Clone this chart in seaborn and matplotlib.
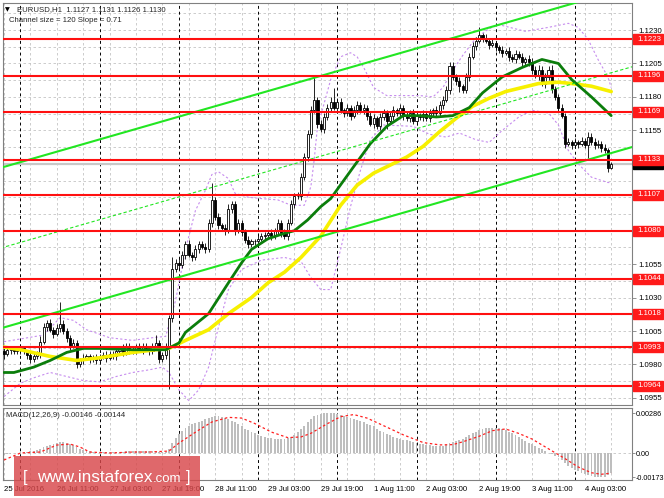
import numpy as np
import pandas as pd
import matplotlib
matplotlib.use("Agg")
import matplotlib.pyplot as plt
import matplotlib.transforms as mtrans
from matplotlib.patches import Rectangle
import seaborn as sns

sns.set_style("white")
plt.rcParams['font.family'] = ['Liberation Sans', 'DejaVu Sans']

# ---------------- data ----------------
BASE = 1.1000          # prices below are pips above this base
PIP = 0.0001

times = pd.date_range('2016-07-25 19:00', '2016-08-04 11:00', freq='h')
times = times[times.dayofweek < 5]

first_open_pips = -10
close_pips = [
    -12, -9, -8, -10, -9, -8, -10, -13, -16, -14,
    -12, -3, 8, 11, 6, 3, 7, 10, 5, 0,
    -6, -4, -20, -17, -15, -14, -16, -15, -17, -14,
    -13, -15, -12, -14, -10, -8, -11, -6, -9, -10,
    -7, -9, -6, -8, -10, -7, -4, -16, -13, -7,
    15, 51, 56, 54, 62, 70, 62, 60, 66, 70,
    68, 66, 86, 103, 90, 84, 82, 80, 96, 100,
    80, 86, 79, 73, 70, 72, 72, 74, 76, 77,
    78, 76, 80, 86, 78, 76, 86, 100, 106, 106,
    120, 135, 152, 170, 178, 160, 156, 165, 172, 176,
    172, 176, 170, 168, 172, 166, 170, 174, 170, 172,
    166, 160, 164, 158, 165, 168, 162, 166, 170, 168,
    172, 166, 164, 168, 162, 166, 165, 167, 164, 168,
    170, 168, 174, 178, 185, 203, 195, 192, 188, 185,
    195, 210, 218, 222, 226, 224, 222, 219, 220, 217,
    215, 213, 214, 210, 208, 212, 210, 206, 208, 206,
    200, 196, 200, 190, 195, 200, 186, 180, 172, 166,
    145, 146, 144, 146, 145, 147, 144, 150, 146, 144,
    145, 142, 140, 127, 130]
upper_wick_pips = [
    2, 3, 2, 2, 3, 2, 2, 1, 2, 3,
    2, 4, 3, 2, 3, 2, 3, 17, 3, 2,
    2, 3, 2, 2, 3, 2, 2, 2, 3, 2,
    2, 3, 2, 2, 3, 2, 3, 2, 2, 3,
    2, 3, 2, 2, 2, 3, 6, 2, 2, 3,
    2, 9, 3, 4, 3, 2, 3, 2, 3, 2,
    2, 3, 3, 13, 2, 3, 2, 3, 4, 2,
    2, 3, 2, 2, 3, 2, 2, 3, 2, 2,
    2, 3, 2, 3, 2, 3, 3, 3, 2, 3,
    3, 3, 3, 3, 18, 2, 3, 3, 3, 4,
    11, 3, 3, 2, 3, 2, 3, 3, 2, 3,
    2, 3, 3, 2, 3, 3, 2, 3, 3, 2,
    3, 2, 3, 2, 3, 2, 2, 3, 2, 3,
    2, 3, 3, 3, 3, 3, 3, 2, 3, 2,
    3, 3, 3, 3, 6, 2, 3, 2, 3, 2,
    2, 3, 2, 3, 2, 3, 2, 3, 2, 3,
    3, 3, 4, 3, 3, 3, 4, 2, 2, 3,
    2, 3, 2, 3, 2, 3, 2, 4, 3, 3,
    3, 2, 3, 2, 1]
lower_wick_pips = [
    4, 2, 3, 2, 2, 3, 2, 3, 3, 2,
    2, 3, 2, 3, 2, 3, 2, 3, 2, 3,
    3, 2, 3, 2, 3, 2, 3, 2, 3, 2,
    2, 3, 2, 2, 3, 2, 3, 2, 3, 2,
    2, 2, 3, 2, 3, 2, 2, 3, 2, 3,
    31, 3, 2, 3, 2, 3, 2, 3, 2, 3,
    2, 3, 2, 3, 2, 3, 2, 3, 2, 3,
    3, 2, 3, 2, 3, 2, 3, 2, 2, 3,
    2, 3, 2, 3, 3, 2, 3, 2, 3, 2,
    3, 2, 3, 3, 2, 3, 2, 3, 2, 3,
    2, 3, 2, 3, 2, 3, 2, 3, 2, 3,
    3, 2, 3, 2, 3, 2, 6, 2, 3, 2,
    2, 3, 2, 3, 2, 3, 2, 3, 2, 3,
    2, 3, 2, 3, 2, 3, 2, 3, 4, 2,
    2, 3, 2, 3, 2, 3, 2, 3, 2, 3,
    2, 3, 2, 3, 2, 3, 2, 3, 2, 3,
    3, 2, 3, 2, 3, 2, 3, 2, 3, 2,
    3, 2, 3, 2, 3, 2, 2, 10, 2, 3,
    2, 3, 2, 3, 1]

# moving averages (read at sampled bars)
green_bars = [0, 3, 9, 14, 19, 24, 29, 39, 49, 53, 55, 62, 68, 72, 75, 80, 85, 88, 92, 96,
              99, 106, 111, 116, 121, 126, 131, 136, 141, 145, 151, 157, 163, 168, 172, 178, 184]
green_pips = [-26, -26, -22, -17, -11, -8, -8, -9, -9, -4, 4, 18, 41, 56, 66, 74, 78, 80, 88, 98,
              104, 128, 145, 158, 166, 166, 165, 166, 172, 183, 195, 202, 208, 205, 193, 180, 166]
yellow_bars = [0, 5, 14, 22, 29, 39, 46, 50, 55, 62, 68, 75, 80, 85, 90, 96, 102, 107, 112,
               117, 122, 127, 132, 137, 142, 147, 152, 157, 162, 168, 172, 178, 184]
yellow_pips = [-7, -9, -14, -17, -15, -11, -9, -8, -2, 6, 18, 30, 41, 49, 60, 76, 99, 114, 123,
               129, 135, 143, 154, 164, 173, 179, 184, 187, 190, 191, 190, 188, 184]

# bands
band_up_bars = [0, 12, 17, 21, 25, 32, 39, 45, 49, 52, 55, 58, 61, 63, 65, 68, 70, 74, 78, 83,
                87, 91, 93, 94, 95, 97, 99, 102, 105, 107, 109, 112, 116, 121, 126, 130, 133,
                136, 139, 143, 147, 150, 158, 165, 171, 174, 177, 180, 183, 184]
band_up_pips = [-3, 2, 15, 13, 6, 0, -2, 0, 1, 28, 66, 95, 110, 122, 124, 119, 108, 105, 104, 103,
                99, 99, 113, 133, 158, 175, 193, 210, 213, 210, 202, 187, 181, 181, 181, 180, 187,
                200, 211, 224, 231, 234, 229, 232, 235, 232, 223, 208, 195, 187]
band_lo_bars = [0, 5, 9, 14, 19, 24, 29, 34, 39, 44, 48, 50, 53, 56, 59, 62, 65, 68, 72, 78,
                85, 90, 93, 96, 99, 102, 105, 108, 111, 115, 124, 129, 134, 138, 143, 147, 151,
                156, 160, 165, 168, 171, 174, 178, 183, 184]
band_lo_pips = [-44, -34, -30, -26, -29, -32, -33, -29, -26, -24, -22, -26, -39, -47, -39, -22, 8,
                36, 51, 58, 60, 57, 45, 36, 36, 66, 98, 125, 148, 159, 158, 152, 150, 153, 148,
                146, 155, 165, 170, 168, 159, 140, 130, 120, 116, 116]

# regression channel (Channel size = 120, Slope = 0.71)
channel_bars = [-1, 191]
channel_low = [1.1007, 1.1143]
channel_mid = [1.1067, 1.1203]
channel_up = [1.1127, 1.1263]

levels = [1.1223, 1.1196, 1.1169, 1.1133, 1.1107, 1.1080, 1.1044, 1.1018, 1.0993, 1.0964]
bid_price = 1.1130

# MACD (units of 1e-5)
macd_main = [
    -15, -10, -6, -2, 3, 6, 8, 10, 14, 18,
    22, 30, 40, 50, 58, 66, 72, 76, 76, 72,
    64, 55, 42, 30, 22, 16, 12, 10, 8, 7,
    6, 6, 7, 8, 8, 9, 10, 12, 13, 14,
    14, 15, 15, 14, 15, 16, 14, 10, 9, 10,
    30, 70, 105, 135, 160, 180, 195, 205, 215, 225,
    232, 240, 250, 258, 262, 262, 258, 252, 245, 232,
    220, 205, 190, 175, 165, 150, 140, 130, 122, 115,
    110, 105, 102, 100, 100, 102, 108, 118, 130, 150,
    170, 195, 220, 245, 262, 272, 280, 284, 286, 286,
    284, 280, 275, 268, 260, 252, 244, 236, 228, 220,
    210, 200, 190, 175, 160, 148, 138, 128, 118, 110,
    102, 96, 90, 84, 78, 72, 66, 62, 58, 55,
    52, 50, 50, 52, 56, 70, 80, 86, 92, 100,
    112, 126, 140, 152, 162, 170, 176, 180, 182, 180,
    176, 170, 162, 152, 140, 126, 112, 98, 84, 72,
    62, 50, 38, 26, 14, 2, -8, -20, -32, -48,
    -70, -90, -106, -120, -132, -142, -150, -158, -164, -168,
    -172, -173, -168, -160, -146]
signal_bars = [0, 5, 11, 16, 20, 23, 26, 32, 39, 44, 50, 53, 59, 63, 68, 72, 76, 81, 86, 90,
               93, 98, 102, 106, 110, 116, 121, 127, 132, 136, 139, 144, 148, 152, 156, 160,
               165, 170, 174, 178, 181, 184]
signal_vals = [-50, 0, 7, 57, 64, 43, 7, 0, 7, 7, 14, 71, 164, 222, 255, 250, 211, 150, 110, 115,
               141, 210, 260, 275, 250, 185, 130, 75, 58, 60, 80, 120, 160, 172, 140, 100,
               30, -40, -100, -141, -152, -144]

tick_bars = [0, 16, 32, 48, 64, 80, 96, 112, 128, 144, 160, 176]
tick_labels = ["25 Jul 2016", "26 Jul 11:00", "27 Jul 03:00", "27 Jul 19:00", "28 Jul 11:00",
               "29 Jul 03:00", "29 Jul 19:00", "1 Aug 11:00", "2 Aug 03:00", "2 Aug 19:00",
               "3 Aug 11:00", "4 Aug 03:00"]
price_ticks = [1.0955, 1.0980, 1.1005, 1.1030, 1.1055, 1.1080, 1.1105, 1.1130, 1.1155, 1.1180,
               1.1205, 1.1230]
hidden_price_ticks = [1.1080, 1.1105, 1.1130]   # covered by the level boxes
macd_ticks = [0.00286, 0.0, -0.00173]
macd_tick_labels = ["0.00286", "0.00", "-0.00173"]

# ---------------- derived ----------------
n = len(close_pips)
idx = np.arange(n)
c = BASE + np.array(close_pips) * PIP
o = np.concatenate([[BASE + first_open_pips * PIP], c[:-1]])
h = np.maximum(o, c) + np.array(upper_wick_pips) * PIP
l = np.minimum(o, c) - np.array(lower_wick_pips) * PIP
day_sep = np.where(times.hour == 0)[0]

# ---------------- figure ----------------
W, H = 664, 498
fig = plt.figure(figsize=(W / 100, H / 100), dpi=100)
fig.patch.set_facecolor('white')


def fr(x0, y0, x1, y1):
    return [x0 / W, 1 - y1 / H, (x1 - x0) / W, (y1 - y0) / H]


ax = fig.add_axes(fr(3, 3, 632, 405))
ax2 = fig.add_axes(fr(3, 408, 632, 480), sharex=ax)
FS = 5.6
GRID = '#C4C4C4'

for a in (ax, ax2):
    a.set_facecolor('white')
    for s in a.spines.values():
        s.set_color('#808080')
        s.set_linewidth(0.8)
    a.yaxis.tick_right()
    for b in range(0, 200, 8):
        a.axvline(b, color=GRID, lw=0.6, ls=(0, (3, 3)), zorder=0.5)
    for b in day_sep:
        a.axvline(b, color='black', lw=0.7, ls=(0, (3, 3)), zorder=0.6)

ax.tick_params(axis='y', direction='out', length=3, width=0.6, pad=1.5,
               labelsize=FS, colors='#808080', labelcolor='black')
ax2.tick_params(axis='y', direction='out', length=2, width=0.6, pad=0.6,
                labelsize=5.2, colors='#808080', labelcolor='black')

ax.set_xlim(-0.3, 190.3)
ax.set_ylim(1.09497, 1.12502)
ax2.set_ylim(-0.00193, 0.00322)

# price grid
for k in range(26):
    ax.axhline(1.0955 + k * 0.00125, color=GRID, lw=0.6, ls=(0, (3, 3)), zorder=0.5)
ax.set_yticks(price_ticks)
ax.set_yticklabels(["" if any(abs(p - q) < 1e-7 for q in hidden_price_ticks) else f"{p:.4f}"
                    for p in price_ticks])
plt.setp(ax.get_xticklabels(), visible=False)
ax.tick_params(axis='x', length=0)

# bid line
ax.axhline(bid_price, color='#C8C8C8', lw=1.6, zorder=1)

# channel
ax.plot(channel_bars, channel_low, color='#22E622', lw=1.5, zorder=5)
ax.plot(channel_bars, channel_up, color='#22E622', lw=1.5, zorder=5)
ax.plot(channel_bars, channel_mid, color='#22E622', lw=0.8, ls=(0, (3, 2)), zorder=5)

# bands
ax.plot(band_up_bars, BASE + np.array(band_up_pips) * PIP, color='#C68CEE', lw=0.8,
        ls=(0, (2, 2)), zorder=2)
ax.plot(band_lo_bars, BASE + np.array(band_lo_pips) * PIP, color='#C68CEE', lw=0.8,
        ls=(0, (2, 2)), zorder=2)

# candles
ax.vlines(idx, l, h, color='black', lw=0.6, zorder=3)
bull = c >= o
body_b = np.minimum(o, c)
body_h = np.maximum(np.abs(c - o), 0.00003)
ax.bar(idx[bull], body_h[bull], bottom=body_b[bull], width=0.62, color='white',
       edgecolor='black', linewidth=0.6, zorder=3.2)
ax.bar(idx[~bull], body_h[~bull], bottom=body_b[~bull], width=0.62, color='black',
       edgecolor='black', linewidth=0.6, zorder=3.2)

# moving averages (seaborn)
sns.lineplot(x=yellow_bars, y=BASE + np.array(yellow_pips) * PIP, ax=ax, color='#F7F000',
             lw=2.6, estimator=None, sort=False, zorder=4)
sns.lineplot(x=green_bars, y=BASE + np.array(green_pips) * PIP, ax=ax, color='#0B7D0B',
             lw=2.0, estimator=None, sort=False, zorder=4.2)

# levels
for lv in levels:
    ax.axhline(lv, color='#FF1010', lw=1.5, zorder=5.5)

# right-side price boxes
tr = mtrans.blended_transform_factory(ax.transAxes, ax.transData)
bx0 = (633 - 3) / 629
bw = 30 / 629
bh = 10 / 13380
ax.add_patch(Rectangle((bx0, bid_price - bh / 2), bw, bh, transform=tr, fc='black', ec='black',
                       clip_on=False, zorder=10))
for lv in levels:
    ax.add_patch(Rectangle((bx0, lv - bh / 2), bw, bh, transform=tr, fc='#FF1A1A', ec='#FF1A1A',
                           clip_on=False, zorder=11))
    ax.text((637 - 3) / 629, lv, f"{lv:.4f}", transform=tr, color='white', fontsize=FS,
            va='center', ha='left', clip_on=False, zorder=11.5)

# MACD
mm = np.array(macd_main) * 1e-5
ax2.bar(idx, mm, width=0.55, color='#BEBEBE', edgecolor='none', zorder=2)
ax2.plot(signal_bars, np.array(signal_vals) * 1e-5, color='#FF2020', lw=0.9, ls=(0, (2, 2)),
         zorder=3)
ax2.axhline(0, color=GRID, lw=0.6, ls=(0, (3, 3)), zorder=0.5)
ax2.set_yticks(macd_ticks)
ax2.set_yticklabels(macd_tick_labels)
ax2.set_xticks(tick_bars)
ax2.set_xticklabels(tick_labels)
ax2.tick_params(axis='x', direction='out', length=3, width=0.6, pad=1.5, labelsize=FS,
                colors='#808080', labelcolor='black')
for t in ax2.get_xticklabels():
    t.set_horizontalalignment('left')

# texts
fig.text(5 / W, 1 - 10 / H, "▼", fontsize=4.5, va='center', ha='left', color='black',
         family=['DejaVu Sans'])
fig.text(17 / W, 1 - 10 / H, "EURUSD,H1  1.1127 1.1131 1.1126 1.1130", fontsize=FS,
         va='center', ha='left')
fig.text(9 / W, 1 - 20 / H, "Channel size = 120 Slope = 0.71", fontsize=FS, va='center',
         ha='left')
fig.text(6 / W, 1 - 415 / H, "MACD(12,26,9) -0.00146 -0.00144", fontsize=FS, va='center',
         ha='left')

# watermark
fig.add_artist(Rectangle((14 / W, 1 - 496 / H), 186 / W, 40 / H, transform=fig.transFigure,
                         fc='#D8474A', ec='none', alpha=0.82, zorder=20))
fig.text(23 / W, 1 - 482 / H, "[", fontsize=12, color='white', va='baseline', ha='left',
         zorder=21)
t1 = fig.text(37 / W, 1 - 482 / H, "www.instaforex", fontsize=12.3, color='white',
              va='baseline', ha='left', zorder=21)
fig.canvas.draw()
bb = t1.get_window_extent()
fig.text(bb.x1 / W, 1 - 482 / H, ".com", fontsize=9.5, color='white', va='baseline', ha='left',
         zorder=21)
fig.text(186 / W, 1 - 482 / H, "]", fontsize=12, color='white', va='baseline', ha='left',
         zorder=21)

fig.savefig("out.png", dpi=100, facecolor='white')
